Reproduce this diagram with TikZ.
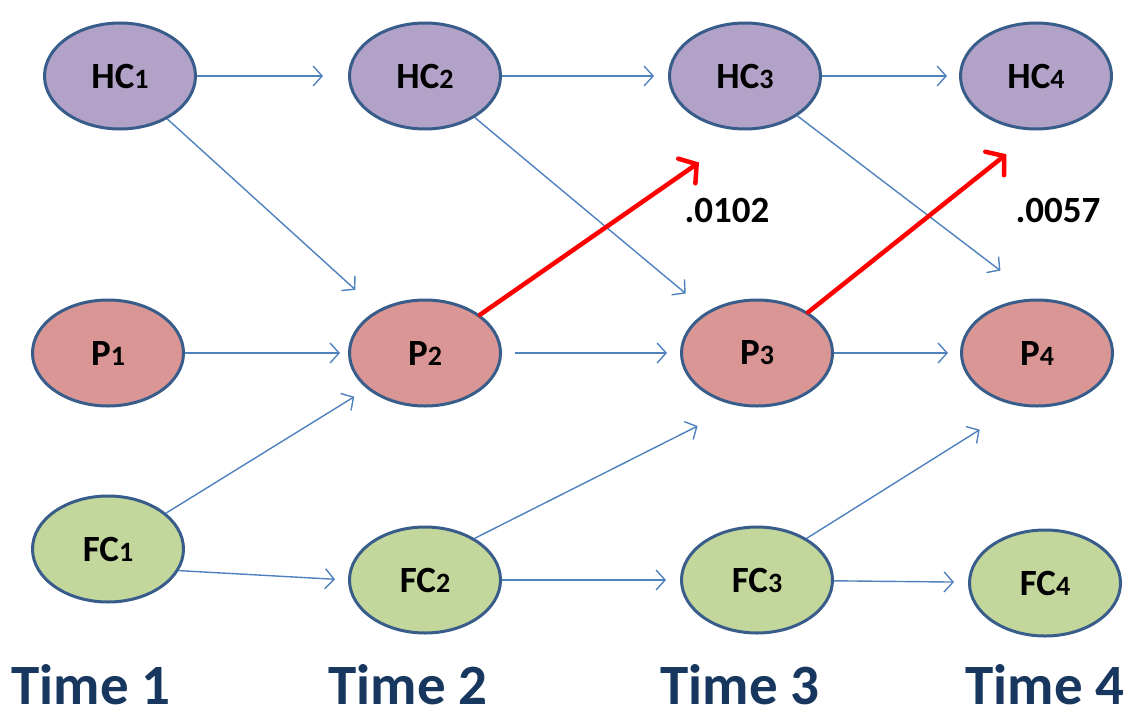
\documentclass[tikz,border=0pt]{standalone}
\usepackage{fontspec}
\setmainfont{Carlito}
\usetikzlibrary{shapes.geometric,arrows.meta}
\definecolor{hcfill}{RGB}{179,162,199}
\definecolor{pfill}{RGB}{217,150,148}
\definecolor{fcfill}{RGB}{195,214,155}
\definecolor{rimblue}{RGB}{56,93,138}
\definecolor{arrowblue}{RGB}{79,129,189}
\definecolor{timeblue}{RGB}{23,55,94}
\newcommand\smalldig[1]{{\fontsize{28}{28}\selectfont #1}}
\begin{document}
\begin{tikzpicture}[x=1pt,y=-1pt,
  state/.style={ellipse, draw=rimblue, line width=3pt, minimum width=151pt,
    minimum height=106pt, inner sep=0pt, font=\fontsize{37}{37}\selectfont\bfseries},
  hcnode/.style={state, fill=hcfill},
  pnode/.style={state, fill=pfill},
  fcnode/.style={state, fill=fcfill},
  conn/.style={draw=arrowblue, line width=1.4pt, -{Straight Barb[length=9pt,width=20pt]}},
  keyconn/.style={draw=red, line width=4.5pt, line cap=round,
    -{Straight Barb[length=12pt,width=30pt,line cap=round]}},
  timelbl/.style={font=\fontsize{57}{57}\selectfont\bfseries, text=timeblue,
    anchor=base, inner sep=0pt},
  vallbl/.style={font=\fontsize{37}{37}\selectfont\bfseries}
]
\useasboundingbox (0,0) rectangle (1134,717);

\node[hcnode] (HC1) at (120,76) {HC\smalldig{1}};
\node[hcnode] (HC2) at (425,76) {HC\smalldig{2}};
\node[hcnode] (HC3) at (745,76) {HC\smalldig{3}};
\node[hcnode] (HC4) at (1036,76) {HC\smalldig{4}};

\node[pnode] (P1) at (108,353) {P\smalldig{1}};
\node[pnode] (P2) at (425,353) {P\smalldig{2}};
\node[pnode] (P3) at (757,353) {P\smalldig{3}};
\node[pnode] (P4) at (1037,353) {P\smalldig{4}};

\node[fcnode] (FC1) at (108,549) {FC\smalldig{1}};
\node[fcnode] (FC2) at (425,580) {FC\smalldig{2}};
\node[fcnode] (FC3) at (757,580) {FC\smalldig{3}};
\node[fcnode] (FC4) at (1045,583) {FC\smalldig{4}};

% horizontal links
\draw[conn, shorten >=25pt] (HC1) -- (HC2);
\draw[conn, shorten >=14pt] (HC2) -- (HC3);
\draw[conn, shorten >=12pt] (HC3) -- (HC4);
\draw[conn, shorten >=8pt] (P1) -- (P2);
\draw[conn, shorten <=13pt, shorten >=13pt] (P2) -- (P3);
\draw[conn, shorten >=12pt] (P3) -- (P4);
\draw[conn, shorten >=13pt] (FC1.-17) -- (FC2.west);
\draw[conn, shorten >=14pt] (FC2) -- (FC3);
\draw[conn, shorten >=14pt] (FC3) -- (FC4);

% diagonal links
\draw[conn, shorten >=30pt] (HC1) -- (P2);
\draw[conn, shorten >=28pt] (HC2) -- (P3);
\draw[conn, shorten >=46pt] (HC3) -- (P4.north);
\draw[conn, shorten >=15pt] (FC1) -- (P2);
\draw[conn, shorten >=45pt] (FC2.40) -- (P3.-110);
\draw[conn, shorten >=45pt] (FC3.40) -- (P4.-110);

% key paths
\draw[keyconn, shorten >=56pt] (P2) -- (HC3.south);
\draw[keyconn, shorten >=38pt] (P3) -- (HC4.south);

\node[vallbl] (v1) at (727,210) {.0102};
\node[vallbl] (v2) at (1058,210) {.0057};

\node[timelbl] (t1) at (91,704) {Time 1};
\node[timelbl] (t2) at (408,704) {Time 2};
\node[timelbl] (t3) at (740,704) {Time 3};
\node[timelbl] (t4) at (1045,704) {Time 4};
\end{tikzpicture}
\end{document}
